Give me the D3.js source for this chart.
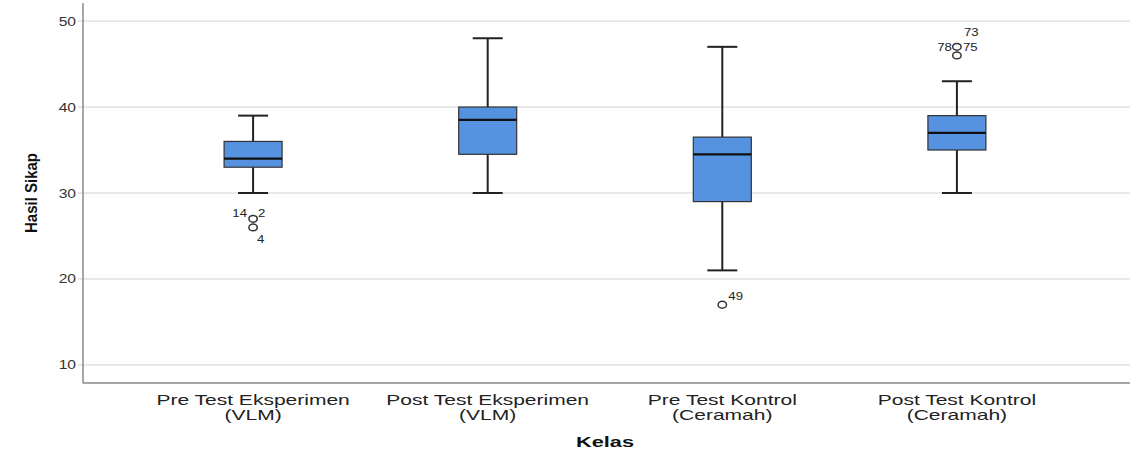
<!DOCTYPE html>
<html><head><meta charset="utf-8">
<script src="https://cdn.jsdelivr.net/npm/d3@7"></script>
<style>
html,body{margin:0;padding:0;background:#fff;}
svg{display:block;font-family:"Liberation Sans",Arial,sans-serif;}
</style></head>
<body>
<svg id="chart" width="1136" height="455"></svg>
<script>
const categories = ["Pre Test Eksperimen (VLM)","Post Test Eksperimen (VLM)","Pre Test Kontrol (Ceramah)","Post Test Kontrol (Ceramah)"];
const labelLine1 = ["Pre Test Eksperimen","Post Test Eksperimen","Pre Test Kontrol","Post Test Kontrol"];
const labelLine2 = ["(VLM)","(VLM)","(Ceramah)","(Ceramah)"];
const whiskerLow = [30, 30, 21, 30];
const q1 = [33, 34.5, 29, 35];
const median = [34, 38.5, 34.5, 37];
const q3 = [36, 40, 36.5, 39];
const whiskerHigh = [39, 48, 47, 43];
const yTicks = [10, 20, 30, 40, 50];
// outliers: category index, value
const outlierCat = [0, 0, 2, 3, 3];
const outlierVal = [27, 26, 17, 47, 46];
// outlier case labels: point index, text, placement
const caseLabelPoint = [0, 0, 1, 2, 3, 3, 4];
const caseLabelText = ["14", "2", "4", "49", "78", "75", "73"];
const caseLabelPlace = [[-6,-6,"end"],[5,-6,"start"],[4,12,"start"],[6,-9,"start"],[-5,0,"end"],[6,0,"start"],[7,-23,"start"]];

const svg = d3.select("#chart");
const x = d3.scalePoint().domain(categories).range([83, 1127]).padding(0.725);
const y = d3.scaleLinear().domain([7.9, 52.1]).range([383, 3]);
const stretch = 1.4;

function widen(sel, f) {
  sel.each(function() {
    const w = this.getComputedTextLength();
    d3.select(this).attr("textLength", w * f).attr("lengthAdjust", "spacingAndGlyphs");
  });
}

// gridlines
svg.append("g").selectAll("line").data(yTicks).join("line")
  .attr("x1", 78).attr("x2", 1130)
  .attr("y1", d => y(d)).attr("y2", d => y(d))
  .attr("stroke", "#d2d2d2").attr("stroke-width", 1);

// y axis
const yAxis = svg.append("g").attr("transform", "translate(83,0)")
  .call(d3.axisLeft(y).tickValues(yTicks).tickSize(0).tickPadding(7));
yAxis.select(".domain").remove();
yAxis.selectAll("text").attr("font-size", 12.5).attr("fill", "#333")
  .attr("font-family", "Liberation Sans, Arial, sans-serif");
widen(yAxis.selectAll("text"), 1.25);
svg.append("line").attr("x1", 83).attr("x2", 83).attr("y1", 3).attr("y2", 383)
  .attr("stroke", "#8a8a8a").attr("stroke-width", 1.5);
svg.append("line").attr("x1", 83).attr("x2", 1130).attr("y1", 383).attr("y2", 383)
  .attr("stroke", "#8a8a8a").attr("stroke-width", 1.5);

// x axis labels
const xl = svg.append("g");
categories.forEach((c, i) => {
  xl.append("text").attr("x", x(c)).attr("y", 405).attr("text-anchor", "middle")
    .attr("font-size", 15).attr("fill", "#222").text(labelLine1[i]);
  xl.append("text").attr("x", x(c)).attr("y", 420).attr("text-anchor", "middle")
    .attr("font-size", 15).attr("fill", "#222").text(labelLine2[i]);
});
widen(xl.selectAll("text"), stretch);

// axis titles
svg.append("text").attr("x", 605).attr("y", 447).attr("text-anchor", "middle")
  .attr("font-size", 15).attr("font-weight", "bold").attr("fill", "#111")
  .attr("textLength", 58).attr("lengthAdjust", "spacingAndGlyphs").text("Kelas");
svg.append("text").attr("transform", "translate(37,193) rotate(-90)")
  .attr("text-anchor", "middle").attr("font-size", 16).attr("fill", "#111")
  .attr("font-weight", "bold").attr("textLength", 80).attr("lengthAdjust", "spacingAndGlyphs")
  .text("Hasil Sikap");

// boxes
const boxW = 58, capW = 30;
const g = svg.append("g");
categories.forEach((c, i) => {
  const cx = x(c);
  g.append("line").attr("x1", cx).attr("x2", cx).attr("y1", y(whiskerHigh[i])).attr("y2", y(q3[i]))
    .attr("stroke", "#222").attr("stroke-width", 2);
  g.append("line").attr("x1", cx).attr("x2", cx).attr("y1", y(q1[i])).attr("y2", y(whiskerLow[i]))
    .attr("stroke", "#222").attr("stroke-width", 2);
  g.append("line").attr("x1", cx - capW/2).attr("x2", cx + capW/2).attr("y1", y(whiskerHigh[i])).attr("y2", y(whiskerHigh[i]))
    .attr("stroke", "#222").attr("stroke-width", 2);
  g.append("line").attr("x1", cx - capW/2).attr("x2", cx + capW/2).attr("y1", y(whiskerLow[i])).attr("y2", y(whiskerLow[i]))
    .attr("stroke", "#222").attr("stroke-width", 2);
  g.append("rect").attr("x", cx - boxW/2).attr("y", y(q3[i])).attr("width", boxW)
    .attr("height", y(q1[i]) - y(q3[i])).attr("fill", "#5592e0").attr("stroke", "#333").attr("stroke-width", 1.2);
  g.append("line").attr("x1", cx - boxW/2).attr("x2", cx + boxW/2).attr("y1", y(median[i])).attr("y2", y(median[i]))
    .attr("stroke", "#111").attr("stroke-width", 2.2);
});

// outliers
g.selectAll("ellipse.out").data(outlierVal).join("ellipse").attr("class", "out")
  .attr("cx", (d, i) => x(categories[outlierCat[i]]))
  .attr("cy", d => y(d)).attr("rx", 4.2).attr("ry", 3.4)
  .attr("fill", "none").attr("stroke", "#333").attr("stroke-width", 1.5);

const cl = g.selectAll("text.case").data(caseLabelText).join("text").attr("class", "case")
  .attr("x", (d, i) => x(categories[outlierCat[caseLabelPoint[i]]]) + caseLabelPlace[i][0])
  .attr("y", (d, i) => y(outlierVal[caseLabelPoint[i]]) + caseLabelPlace[i][1] + 4)
  .attr("text-anchor", (d, i) => caseLabelPlace[i][2])
  .attr("font-size", 11).attr("fill", "#222").text(d => d);
widen(cl, 1.2);
</script>
</body></html>
